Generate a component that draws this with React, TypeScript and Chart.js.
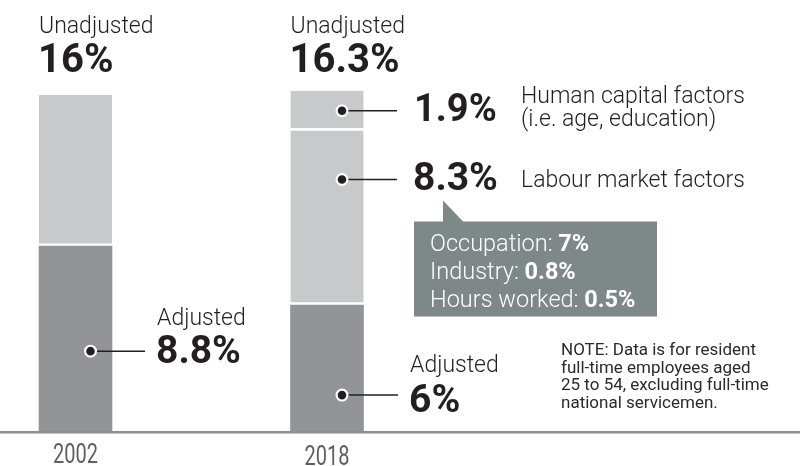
import React, { useEffect, useRef } from "react";
import { Chart, registerables } from "chart.js";

Chart.register(...registerables);

// ---- data ----
const years = ["2002", "2018"];
const adjustedGap = [8.8, 6];
const explainedLabourGap = [7.2, 8.3]; // 2002: explained part; 2018: labour market factors
const humanCapitalGap: (number | null)[] = [null, 1.9];
const unadjustedTotals = [16, 16.3];
const breakdownLabels = ["Occupation", "Industry", "Hours worked"];
const breakdownValues = ["7%", "0.8%", "0.5%"];
const noteLines = [
  "NOTE: Data is for resident",
  "full-time employees aged",
  "25 to 54, excluding full-time",
  "national servicemen.",
];

const DARK = "#939498";
const LIGHT = "#c8c9cb";
const INK = "#231f20";
const CALLOUT = "#7e8886";
const FONT = "Roboto, 'Noto Sans', sans-serif";

const annotatePlugin = {
  id: "annotate",
  afterDatasetsDraw(chart: any) {
    const ctx: CanvasRenderingContext2D = chart.ctx;
    const xs = chart.scales.x;
    const ys = chart.scales.y;
    const cx = (i: number) => xs.getPixelForValue(i);
    const py = (v: number) => ys.getPixelForValue(v);
    const halfBar = 36.5;

    ctx.save();
    // baseline across full width
    const y0 = py(0);
    ctx.strokeStyle = "#8e8e8e";
    ctx.lineWidth = 2.4;
    ctx.beginPath();
    ctx.moveTo(0, y0 + 1.2);
    ctx.lineTo(chart.width, y0 + 1.2);
    ctx.stroke();

    ctx.textBaseline = "alphabetic";
    ctx.textAlign = "left";

    // year labels (condensed)
    years.forEach((yr, i) => {
      ctx.save();
      ctx.font = `400 27px ${FONT}`;
      ctx.fillStyle = "#5f5f5f";
      const w = ctx.measureText(yr).width;
      const sx = 45 / w;
      ctx.translate(cx(i), 463 + (i === 1 ? 1.5 : 0));
      ctx.scale(sx, 1);
      ctx.textAlign = "center";
      ctx.fillText(yr, 0, 0);
      ctx.restore();
    });

    // unadjusted headers
    unadjustedTotals.forEach((t, i) => {
      const left = cx(i) - halfBar;
      ctx.fillStyle = INK;
      ctx.font = `300 23px ${FONT}`;
      ctx.fillText("Unadjusted", left, 32.5);
      ctx.font = `700 40px ${FONT}`;
      ctx.fillText(`${t}%`, left - 1, 71.5);
    });

    const connector = (i: number, value: number, lineDx: number) => {
      const x = cx(i) + 15;
      const y = py(value);
      ctx.strokeStyle = INK;
      ctx.lineWidth = 1.5;
      ctx.beginPath();
      ctx.moveTo(x, y);
      ctx.lineTo(cx(i) + lineDx, y);
      ctx.stroke();
      ctx.beginPath();
      ctx.arc(x, y, 5.4, 0, Math.PI * 2);
      ctx.fillStyle = INK;
      ctx.fill();
      ctx.strokeStyle = "#ffffff";
      ctx.lineWidth = 2.2;
      ctx.stroke();
      return y;
    };

    // 2002 adjusted
    {
      const y = connector(0, adjustedGap[0] * 0.432, 69.5);
      const x = cx(0) + 81.5;
      ctx.fillStyle = INK;
      ctx.font = `300 23px ${FONT}`;
      ctx.fillText("Adjusted", x, y - 26);
      ctx.font = `700 39px ${FONT}`;
      ctx.fillText(`${adjustedGap[0]}%`, x - 1, y + 12);
    }
    // 2018 adjusted
    {
      const y = connector(1, adjustedGap[1] * 0.285, 71);
      const x = cx(1) + 83;
      ctx.fillStyle = INK;
      ctx.font = `300 23px ${FONT}`;
      ctx.fillText("Adjusted", x, y - 23.5);
      ctx.font = `700 39px ${FONT}`;
      ctx.fillText(`${adjustedGap[1]}%`, x - 1, y + 16.5);
    }
    // 2018 human capital
    {
      const hc = humanCapitalGap[1] as number;
      const y = connector(1, adjustedGap[1] + explainedLabourGap[1] + hc / 2, 70);
      ctx.fillStyle = INK;
      ctx.font = `700 38px ${FONT}`;
      ctx.fillText(`${hc}%`, cx(1) + 87, y + 10);
      ctx.font = `300 23px ${FONT}`;
      ctx.fillText("Human capital factors", cx(1) + 194, y - 8);
      ctx.fillText("(i.e. age, education)", cx(1) + 194, y + 15);
    }
    // 2018 labour market
    {
      const y = connector(1, adjustedGap[1] + explainedLabourGap[1] * 0.72, 70);
      ctx.fillStyle = INK;
      ctx.font = `700 39px ${FONT}`;
      ctx.fillText(`${explainedLabourGap[1]}%`, cx(1) + 86, y + 10.5);
      ctx.font = `300 23px ${FONT}`;
      ctx.fillText("Labour market factors", cx(1) + 194, y + 7);

      // callout box
      const bx = cx(1) + 87;
      const by = y + 42;
      ctx.fillStyle = CALLOUT;
      ctx.beginPath();
      ctx.moveTo(bx + 29, by - 21);
      ctx.lineTo(bx + 29, by + 1);
      ctx.lineTo(bx + 50, by + 1);
      ctx.closePath();
      ctx.fill();
      ctx.fillRect(bx, by, 243, 95);
      ctx.fillStyle = "#ffffff";
      breakdownLabels.forEach((lab, k) => {
        const ty = by + 29 + k * 28.3;
        ctx.font = `300 23.5px ${FONT}`;
        const s = `${lab}: `;
        ctx.fillText(s, bx + 16, ty);
        const w = ctx.measureText(s).width;
        ctx.font = `700 23.5px ${FONT}`;
        ctx.fillText(breakdownValues[k], bx + 16 + w, ty);
      });
    }

    // note
    ctx.save();
    ctx.font = `400 17px ${FONT}`;
    ctx.fillStyle = "#2a2a2a";
    const longest = Math.max(...noteLines.map((l) => ctx.measureText(l).width));
    const sx = Math.min(1, 234 / longest);
    ctx.translate(561, 355);
    ctx.scale(sx, 1);
    noteLines.forEach((l, k) => ctx.fillText(l, 0, k * 17.7));
    ctx.restore();

    ctx.restore();
  },
};

export default function App() {
  const ref = useRef<HTMLCanvasElement | null>(null);
  useEffect(() => {
    if (!ref.current) return;
    const common = {
      borderColor: "#ffffff",
      borderSkipped: false as const,
      barThickness: 73,
      clip: false as const,
    };
    const chart = new Chart(ref.current, {
      type: "bar",
      data: {
        labels: years,
        datasets: [
          {
            label: "Adjusted",
            data: adjustedGap,
            backgroundColor: DARK,
            borderWidth: 0,
            ...common,
          },
          {
            label: "Labour market factors",
            data: explainedLabourGap,
            backgroundColor: LIGHT,
            borderWidth: { top: 0, left: 0, right: 0, bottom: 3 },
            ...common,
          },
          {
            label: "Human capital factors",
            data: humanCapitalGap,
            backgroundColor: LIGHT,
            borderWidth: { top: 0, left: 0, right: 0, bottom: 3 },
            ...common,
          },
        ],
      },
      options: {
        responsive: false,
        animation: false,
        layout: { padding: { left: 75.5, right: 473, top: 11, bottom: 35 } },
        plugins: { legend: { display: false }, tooltip: { enabled: false } },
        scales: {
          x: { display: false, stacked: true, offset: false, grid: { display: false } },
          y: { display: false, stacked: true, min: 0, max: 20 },
        },
      },
      plugins: [annotatePlugin],
    });
    return () => chart.destroy();
  }, []);
  return (
    <div style={{ position: "absolute", left: 0, top: 0, width: 800, height: 466, background: "#fff" }}>
      <canvas ref={ref} width={800} height={466} />
    </div>
  );
}
